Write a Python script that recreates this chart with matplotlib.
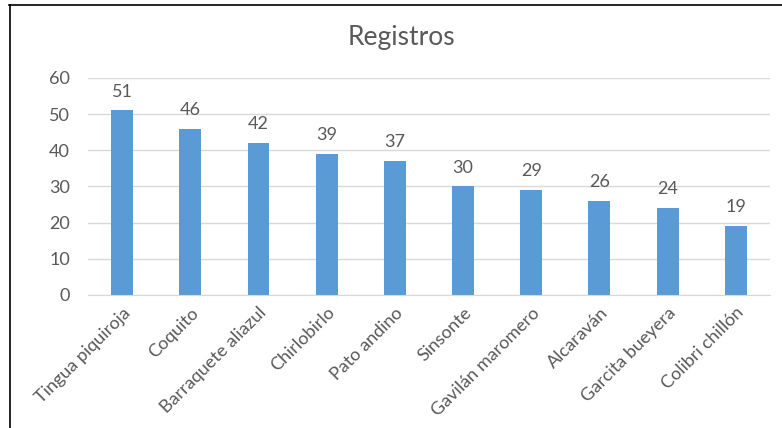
import matplotlib.pyplot as plt
from matplotlib.lines import Line2D

especies = ["Tingua piquiroja", "Coquito", "Barraquete aliazul", "Chirlobirlo",
            "Pato andino", "Sinsonte", "Gavilán maromero", "Alcaraván",
            "Garcita bueyera", "Colibri chillón"]
registros = [51, 46, 42, 39, 37, 30, 29, 26, 24, 19]
yticks = [0, 10, 20, 30, 40, 50, 60]

gris = "#595959"
plt.rcParams['font.family'] = ['Lato', 'DejaVu Sans']

fig = plt.figure(figsize=(7.82, 4.28), dpi=100)
ax = fig.add_axes([0.1125, 0.311, 0.872, 0.507])

x = range(len(especies))
ax.bar(x, registros, width=0.32, color="#5B9BD5", zorder=3)
for xi, v in zip(x, registros):
    ax.text(xi, v + 5.2, str(v), ha="center", va="center", fontsize=13, color=gris)

ax.set_xlim(-0.5, len(especies) - 0.5)
ax.set_ylim(0, 60)
ax.set_yticks(yticks)
ax.yaxis.grid(True, color="#D9D9D9", linewidth=1, zorder=0)
ax.set_xticks(list(x))
ax.set_xticklabels(especies, rotation=45, ha="right", rotation_mode="anchor",
                   fontsize=13, color=gris)
ax.tick_params(axis="y", labelsize=13, labelcolor=gris, length=0, pad=13)
ax.tick_params(axis="x", length=0, pad=7)
for s in ["top", "right", "left"]:
    ax.spines[s].set_visible(False)
ax.spines["bottom"].set_color("#D9D9D9")
ax.spines["bottom"].set_zorder(4)

fig.text(0.513, 0.912, "Registros", ha="center", va="center", fontsize=19, color=gris)

# marco del grafico
fig.add_artist(Line2D([0.011, 1.0], [0.988, 0.988], color="black", linewidth=1.2))
fig.add_artist(Line2D([0.013, 0.013], [0.0, 0.988], color="black", linewidth=1.2))

fig.savefig("out.png", dpi=100)
